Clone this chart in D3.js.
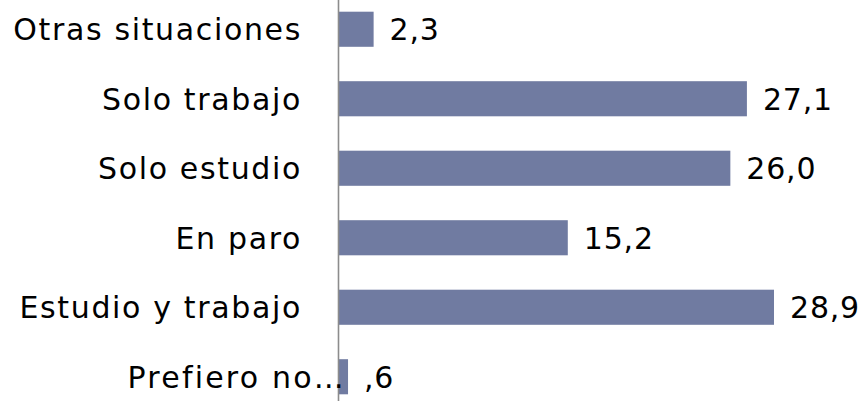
<!DOCTYPE html>
<html><head><meta charset="utf-8">
<script src="https://cdn.jsdelivr.net/npm/d3@7"></script>
<style>html,body{margin:0;padding:0;background:#fff;overflow:hidden}</style>
</head><body>
<svg id="c" width="864" height="401"></svg>
<script>
const categories = ["Otras situaciones","Solo trabajo","Solo estudio","En paro","Estudio y trabajo","Prefiero no…"];
const values = [2.3, 27.1, 26.0, 15.2, 28.9, 0.6];
const valueLabels = ["2,3","27,1","26,0","15,2","28,9",",6"];

const svg = d3.select("#c");
const x0 = 339;
const x = d3.scaleLinear().domain([0, 28.9]).range([x0, 774]);
const y = d3.scaleBand().domain(categories).range([-5.5, 411.5]).paddingInner(0.495).paddingOuter(0.2475);
const font = "DejaVu Sans";
const fs = 30;

const rows = categories.map((c,i)=>({c, v:values[i], l:valueLabels[i]}));

svg.selectAll("rect.bar").data(rows).join("rect")
  .attr("class","bar")
  .attr("x", x(0))
  .attr("y", d=>y(d.c))
  .attr("width", d=>x(d.v)-x(0))
  .attr("height", y.bandwidth())
  .attr("fill", "#707ba1");

svg.append("line").attr("x1",338.5).attr("x2",338.5).attr("y1",0).attr("y2",401)
  .attr("stroke","#8c8c8c").attr("stroke-width",1.6);

svg.selectAll("text.cat").data(rows).join("text")
  .attr("class","cat")
  .attr("x", (d,i)=> i===5 ? 346 : 302)
  .attr("y", d=>y(d.c)+y.bandwidth()/2+11)
  .attr("text-anchor","end")
  .attr("letter-spacing", (d,i)=> i===5 ? 2.2 : 1.65)
  .attr("font-family", font).attr("font-size", fs).attr("fill","#000")
  .text(d=>d.c);

svg.selectAll("text.val").data(rows).join("text")
  .attr("class","val")
  .attr("x", d=>x(d.v)+16)
  .attr("y", d=>y(d.c)+y.bandwidth()/2+11)
  .attr("letter-spacing", 0.8)
  .attr("font-family", font).attr("font-size", fs).attr("fill","#000")
  .text(d=>d.l);
</script>
</body></html>
